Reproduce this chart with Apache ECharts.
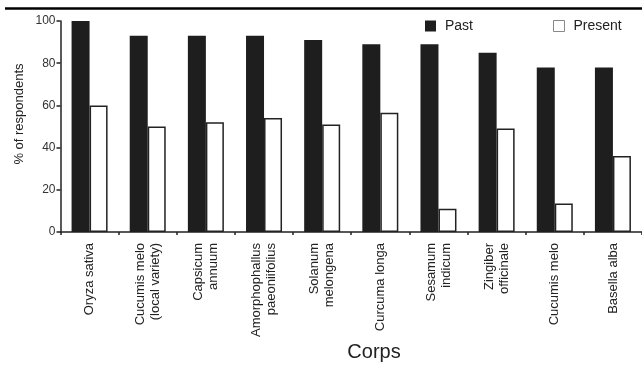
<!DOCTYPE html>
<html>
<head>
<meta charset="utf-8">
<script src="https://cdn.jsdelivr.net/npm/echarts@6/dist/echarts.min.js"></script>
<style>html,body{margin:0;padding:0;background:#fff;}#c{width:642px;height:365px;}</style>
</head>
<body>
<div id="c"></div>
<script>
const categories = ['Oryza sativa', 'Cucumis melo\n(local variety)', 'Capsicum\nannuum', 'Amorphophallus\npaeoniifolius', 'Solanum\nmelongena', 'Curcuma longa', 'Sesamum\nindicum', 'Zingiber\nofficinale', 'Cucumis melo', 'Basella alba'];
const pastValues = [100, 93, 93, 93, 91, 89, 89, 85, 78, 78];
const presentValues = [60, 50, 52, 54, 51, 56.5, 11, 49, 13.5, 36];
const yTicks = [0, 20, 40, 60, 80, 100];

const FONT = 'Liberation Sans, Arial, sans-serif';
const chart = echarts.init(document.getElementById('c'), null, {renderer: 'canvas'});
chart.setOption({
  animation: false,
  backgroundColor: '#fff',
  textStyle: {fontFamily: FONT},
  grid: {left: 60.5, top: 21, width: 584, height: 211, containLabel: false},
  legend: {
    left: 420, top: 14, itemWidth: 11, itemHeight: 11, itemGap: 80, icon: 'rect',
    textStyle: {fontFamily: FONT, fontSize: 14, color: '#222', padding: [0, 0, 0, 4]},
    data: [{name: 'Past', itemStyle: {borderWidth: 0}}, {name: 'Present', itemStyle: {borderColor: '#888', borderWidth: 1}}]
  },
  xAxis: {
    type: 'category',
    data: categories,
    axisLine: {lineStyle: {color: '#222', width: 1.5}},
    axisTick: {show: true, length: 3, lineStyle: {color: '#222', width: 1.5}},
    axisLabel: {rotate: 90, margin: 11, fontSize: 13, color: '#222', fontFamily: FONT, lineHeight: 15, interval: 0}
  },
  yAxis: {
    type: 'value', min: 0, max: 100, interval: 20,
    axisLine: {show: true, lineStyle: {color: '#222', width: 1.5}},
    axisTick: {show: true, length: 4, lineStyle: {color: '#222', width: 1.5}},
    splitLine: {show: false},
    axisLabel: {fontSize: 12, color: '#333', fontFamily: FONT, margin: 5,
      formatter: v => yTicks.includes(v) ? String(v) : ''}
  },
  series: [
    {name: 'Past', type: 'bar', data: pastValues, barWidth: 18, barGap: '0%',
      itemStyle: {color: '#1e1e1e'}},
    {name: 'Present', type: 'bar', data: presentValues, barWidth: 18,
      itemStyle: {color: '#fff', borderColor: '#222', borderWidth: 1.5}}
  ],
  graphic: [
    {type: 'line', shape: {x1: 5, y1: 8.5, x2: 642, y2: 8.5}, style: {stroke: '#000', lineWidth: 2.5}},
    {type: 'text', x: 19, y: 114, rotation: Math.PI / 2,
      style: {text: '% of respondents', font: '13px Liberation Sans, Arial, sans-serif', fill: '#222', align: 'center', verticalAlign: 'middle'}},
    {type: 'text', x: 374, y: 352,
      style: {text: 'Corps', font: '20px Liberation Sans, Arial, sans-serif', fill: '#222', align: 'center', verticalAlign: 'middle'}}
  ]
});
</script>
</body>
</html>
